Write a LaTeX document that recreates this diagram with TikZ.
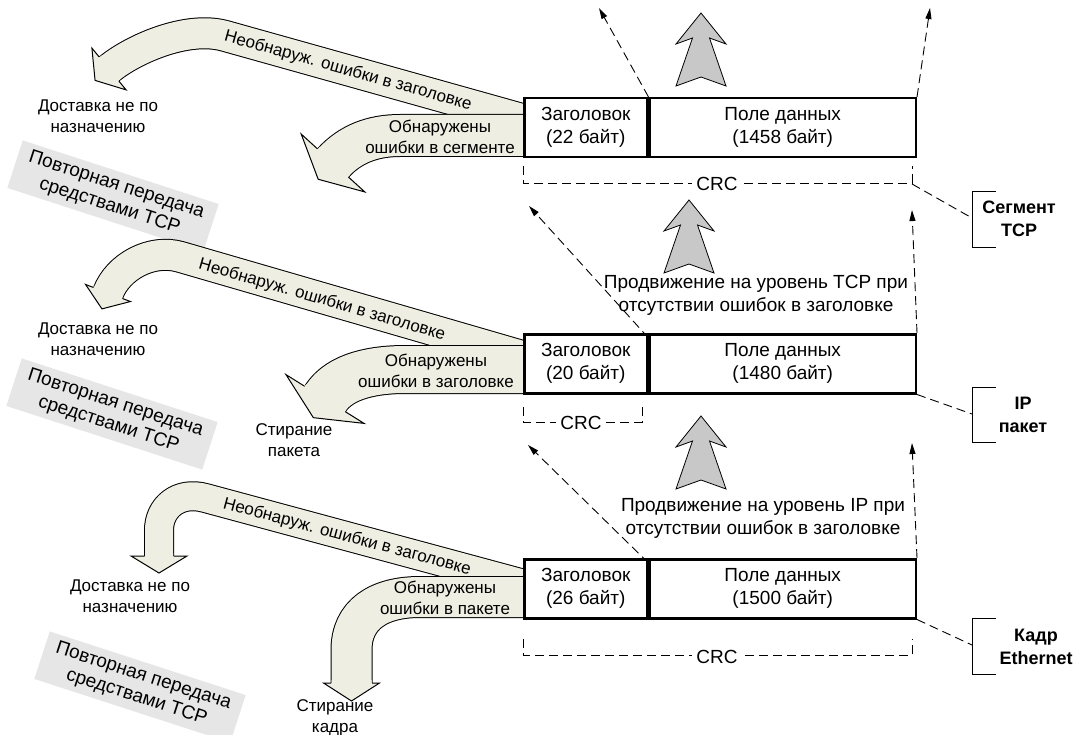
\documentclass[tikz,border=0pt]{standalone}
\usepackage{fontspec}
\setmainfont{Liberation Sans}
\usetikzlibrary{arrows.meta}
\definecolor{bandfill}{RGB}{238,238,226}
\definecolor{arrowgray}{RGB}{200,200,200}
\definecolor{boxgray}{RGB}{230,230,230}
% band body: #1 outer width, #2 inner width, #3 path
\newcommand\bandline[3]{%
  \draw[line width=#1pt, black, line cap=butt, line join=round] #3;
  \draw[line width=#2pt, bandfill, line cap=butt, line join=round] #3;}
% band head: #1 base point, #2 angle, #3 half band width, #4 half head width, #5 length
\newcommand\bandhead[5]{%
  \begin{scope}[shift={#1}, rotate=#2]
    \fill[bandfill] (-3,#3) -- (0,#3) -- (0,#4) -- (#5,0) -- (0,-#4) -- (0,-#3) -- (-3,-#3) -- cycle;
    \draw[line width=1pt, line join=miter] (0,#3+0.5) -- (0,#4) -- (#5,0) -- (0,-#4) -- (0,-#3-0.5);
  \end{scope}}
\newcommand\grayarrow[1]{%
  \draw[garrow, shift={#1}] (0,0) -- (25,31) -- (8.5,25) -- (25,73) -- (0,64) -- (-25,73) -- (-8.5,25) -- (-25,31) -- cycle;}
\tikzset{
  bigf/.style={font=\fontsize{19}{23}\selectfont},
  hdr/.style={draw, line width=2.5pt, fill=white, minimum width=123pt, minimum height=59pt, inner sep=0pt, align=center, anchor=north west, bigf},
  dat/.style={hdr, minimum width=266pt},
  txt/.style={align=center, inner sep=0pt},
  btxt/.style={txt, font=\fontsize{18}{23}\selectfont\bfseries},
  gbox/.style={fill=boxgray, align=center, minimum width=206pt, minimum height=50pt, inner sep=2pt, font=\fontsize{19}{22}\selectfont},
  dsh/.style={line width=0.9pt, dash pattern=on 9pt off 5pt},
  darr/.style={dsh, -{Triangle[length=11pt,width=6pt]}},
  crc/.style={fill=white, inner sep=4pt, bigf},
  brk/.style={line width=0.9pt},
  garrow/.style={fill=arrowgray, draw=black, line width=0.8pt, line join=miter}
}
\begin{document}
\begin{tikzpicture}[x=1pt, y=-1pt, font=\fontsize{17}{21}\selectfont]
\path[use as bounding box] (0,0) rectangle (1078,735);

% ---------- gray up arrows ----------
\grayarrow{(701,13)}
\grayarrow{(689,200)}
\grayarrow{(701,416)}

% ---------- level 1 (TCP segment) ----------
\bandline{32}{30}{(560,129.7) -- (225,35.9) .. controls (186.5,25.1) and (132,50) .. (109,69)}
\bandhead{(109,69)}{-140.7}{15}{27}{18}
\bandline{43}{41}{(560,135.5) -- (400,135.5) .. controls (372,135.5) and (349.8,144.5) .. (333,163)}
\bandhead{(333,163)}{-132.3}{20.5}{43}{22}
\node[hdr] (h1) at (523,97) {Заголовок\\(22 байт)};
\node[dat] (d1) at (h1.north east) {Поле данных\\(1458 байт)};
\node[txt, rotate=-15.6] (u1) at (348,71) {Необнаруж. ошибки в заголовке};
\node[txt] (o1) at (440,137) {Обнаружены\\ошибки в сегменте};
\node[txt] (n1) at (98,116) {Доставка не по\\назначению};
\node[gbox, rotate=-18] (g1) at (113,196) {Повторная передача\\средствами TCP};
\coordinate (t1a) at (599,8);
\coordinate (t1b) at (930,8);
\draw[darr] (h1.north east) -- (t1a);
\draw[darr] (d1.north east) -- (t1b);
\draw[dsh] (523,166) -- (523,183) -- (912,183) -- (912,166);
\node[crc] (c1) at (717,184) {CRC};
\coordinate (k1) at (912,184);
\coordinate (b1) at (972,218);
\draw[dsh] (k1) -- (b1);
\draw[brk] (996,191) -- (972,191) -- (972,247) -- (996,247);
\node[btxt] (l1) at (1019,219) {Сегмент\\TCP};

% ---------- level 2 (IP packet) ----------
\bandline{32}{30}{(560,367) -- (180,256.8) .. controls (151.2,248.5) and (117.9,266.8) .. (108,293)}
\bandhead{(108,293)}{-110.8}{15}{24}{17}
\bandline{49}{47}{(560,369.5) -- (405,369.5) .. controls (375,369.5) and (339.8,375.3) .. (325,399)}
\bandhead{(325,399)}{-122}{23.5}{46}{22}
\node[hdr] (h2) at (523,333) {Заголовок\\(20 байт)};
\node[dat] (d2) at (h2.north east) {Поле данных\\(1480 байт)};
\node[txt, rotate=-16.2] (u2) at (322,300) {Необнаруж. ошибки в заголовке};
\node[txt] (o2) at (436,371) {Обнаружены\\ошибки в заголовке};
\node[txt] (n2) at (98,339) {Доставка не по\\назначению};
\node[txt] (s2) at (294,440) {Стирание\\пакета};
\node[gbox, rotate=-18] (g2) at (112,414) {Повторная передача\\средствами TCP};
\node[txt, bigf] (p2) at (756,295) {Продвижение на уровень TCP при\\отсутствии ошибок в заголовке};
\coordinate (t2a) at (529,206);
\coordinate (t2b) at (912,210);
\draw[darr] ([yshift=-5pt]h2.north east) -- (t2a);
\draw[darr] (d2.north east) -- (t2b);
\draw[dsh] (523,407) -- (523,422) -- (642,422) -- (642,407);
\node[crc] (c2) at (581,423) {CRC};
\coordinate (b2) at (972,414);
\draw[dsh] (d2.south east) -- (b2);
\draw[brk] (996,387) -- (972,387) -- (972,442) -- (996,442);
\node[btxt] (l2) at (1023,415) {IP\\пакет};

% ---------- level 3 (Ethernet frame) ----------
\bandline{30}{28}{(560,593.7) -- (205,497.9) .. controls (178,490.6) and (159,508) .. (159,530) -- (159,556)}
\bandhead{(159,556)}{-90}{14}{28}{17}
\bandline{42}{40}{(560,597) -- (420,597) .. controls (378,597) and (351.5,615) .. (351.5,650) -- (351.5,683)}
\bandhead{(351.5,683)}{-90}{20}{28}{18}
\node[hdr] (h3) at (523,558) {Заголовок\\(26 байт)};
\node[dat] (d3) at (h3.north east) {Поле данных\\(1500 байт)};
\node[txt, rotate=-15.1] (u3) at (347,537) {Необнаруж. ошибки в заголовке};
\node[txt] (o3) at (445,598) {Обнаружены\\ошибки в пакете};
\node[txt] (n3) at (130,596) {Доставка не по\\назначению};
\node[txt] (s3) at (335,718) {Стирание\\кадра};
\node[gbox, rotate=-18] (g3) at (140,687) {Повторная передача\\средствами TCP};
\node[txt, bigf] (p3) at (763,518) {Продвижение на уровень IP при\\отсутствии ошибок в заголовке};
\coordinate (t3a) at (528,445);
\coordinate (t3b) at (912,443);
\draw[darr] ([yshift=-5pt]h3.north east) -- (t3a);
\draw[darr] (d3.north east) -- (t3b);
\draw[dsh] (523,639) -- (523,655) -- (912,655) -- (912,639);
\node[crc] (c3) at (717,657) {CRC};
\coordinate (b3) at (972,645);
\draw[dsh] (d3.south east) -- (b3);
\draw[brk] (996,618) -- (972,618) -- (972,674) -- (996,674);
\node[btxt] (l3) at (1036,647) {Кадр\\Ethernet};
\end{tikzpicture}
\end{document}
